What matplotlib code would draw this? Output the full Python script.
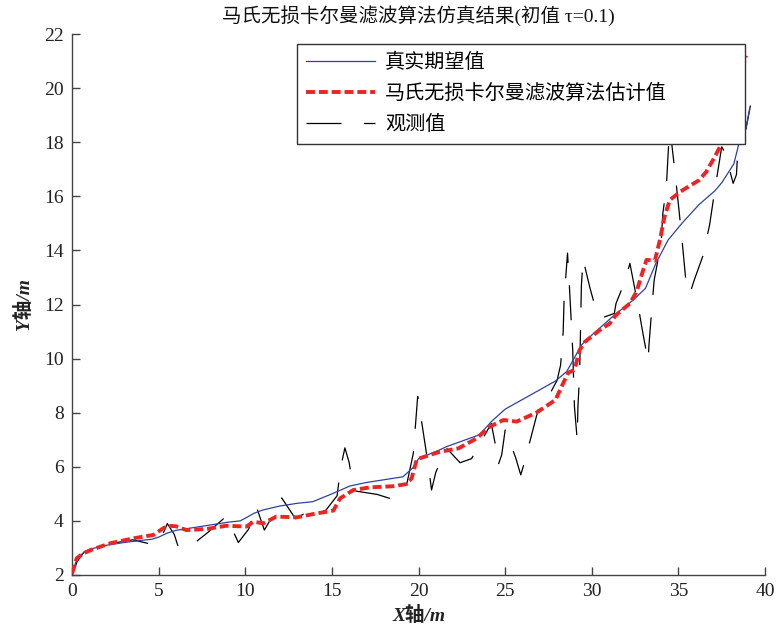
import numpy as np
import matplotlib
matplotlib.use("Agg")
import matplotlib.pyplot as plt

plt.rcParams['font.family'] = ['Liberation Serif', 'Noto Sans CJK SC']
plt.rcParams['axes.unicode_minus'] = False

# true expected trajectory
true_x = [0, 0.3, 0.7, 1, 2, 3, 4, 4.6, 5.0, 5.5, 6, 7, 8, 9, 9.7, 10, 10.5, 11, 12, 13,
          13.9, 15.08, 16.04, 17, 18, 19.1, 19.7, 20, 21.2, 21.6, 23.5, 24.3, 25.0, 27.9,
          28.55, 28.93, 29.4, 30.0, 31.2, 32.4, 33.1, 33.7, 34.4, 35.2, 36.2, 37.1, 37.5,
          38.2, 38.55, 38.9, 39.1]
true_y = [2.1, 2.6, 2.85, 2.95, 3.1, 3.2, 3.28, 3.32, 3.4, 3.55, 3.65, 3.75, 3.85, 3.95,
          4.0, 4.1, 4.28, 4.4, 4.55, 4.65, 4.71, 5.02, 5.29, 5.42, 5.52, 5.63, 5.98, 6.3,
          6.62, 6.74, 7.18, 7.73, 8.13, 9.17, 9.52, 9.95, 10.5, 10.87, 11.55, 12.17, 12.6,
          13.52, 14.38, 15.0, 15.7, 16.2, 16.5, 17.2, 18.1, 18.5, 19.2]

# UKF estimate
est_x = [0, 0.27, 0.65, 1.2, 2.2, 3.5, 4.7, 5.27, 5.6, 6.0, 6.6, 7.77, 8.9, 10.08, 10.46,
         11.04, 11.8, 12.97, 13.9, 15.08, 15.47, 16.23, 17.2, 18.5, 19.3, 19.6, 19.9, 21.2,
         22.3, 23.35, 24.1, 24.9, 25.66, 26.8, 27.9, 28.35, 28.64, 29.0, 29.3, 29.6, 30.47,
         31.04, 31.4, 32.2, 32.58, 32.97, 33.16, 33.64, 33.93, 34.2, 34.5, 35.1, 36.2, 36.6,
         37.1, 37.5, 38.2, 38.9]
est_y = [2.05, 2.62, 2.8, 2.95, 3.17, 3.35, 3.48, 3.73, 3.82, 3.8, 3.66, 3.7, 3.82, 3.79,
         3.97, 3.91, 4.16, 4.13, 4.25, 4.38, 4.83, 5.14, 5.24, 5.28, 5.36, 5.57, 6.28, 6.55,
         6.68, 7.05, 7.48, 7.73, 7.67, 8.0, 8.47, 9.09, 9.48, 9.58, 10.32, 10.62, 11.06,
         11.3, 11.61, 12.04, 12.47, 13.28, 13.65, 13.62, 14.38, 15.25, 15.86, 16.17, 16.6,
         16.9, 17.46, 17.96, 19.5, 21.2]

# observations
obs_x = [0.0, 0.3, 0.7, 1.5, 2.2, 2.6, 3.5, 4.5, 5.0, 5.5, 5.9, 6.1, 6.7, 7.3, 7.8, 8.9,
         9.1, 9.6, 10.2, 10.6, 11.1, 11.5, 12.1, 12.9, 14.1, 14.6, 15.3, 15.5, 15.75, 16.0,
         16.2, 16.4, 17.6, 18.5, 19.3, 19.7, 19.95, 20.1, 20.6, 20.75, 21.0, 21.6, 22.4,
         23.06, 23.4, 24.2, 24.5, 24.6, 24.8, 25.0, 25.6, 25.9, 26.1, 26.9, 27.5, 28.0,
         28.2, 28.35, 28.4, 28.5, 28.6, 28.7, 28.8, 28.9, 29.0, 29.16, 29.2, 29.3, 29.4,
         29.5, 29.6, 29.9, 30.3, 30.56, 31.3, 31.4, 31.9, 32.2, 32.7, 32.9, 33.25, 33.3,
         33.45, 33.6, 34.0, 34.1, 34.3, 34.4, 34.5, 34.8, 35.0, 35.2, 35.5, 35.76, 35.95,
         36.4, 36.8, 37.1, 37.5, 37.7, 38.16, 38.35, 38.45, 38.9, 39.2]
obs_y = [2.0, 2.5, 2.85, 3.05, 3.2, 3.2, 3.3, 3.15, 3.15, 3.9, 3.5, 3.1, 2.95, 3.3, 3.55,
         4.17, 3.9, 3.2, 3.7, 4.6, 3.66, 4.1, 4.85, 4.08, 4.52, 4.35, 4.93, 5.96, 6.7, 6.15,
         5.3, 5.1, 4.98, 4.8, 5.3, 6.5, 8.6, 8.0, 5.9, 5.14, 5.8, 6.7, 6.15,
         6.3, 6.7, 7.6, 6.6, 6.07, 6.44, 7.36, 6.35, 5.7, 6.13, 8.1, 8.6, 9.2,
         9.76, 11.0, 12.17, 13.03, 13.9, 12.78, 11.55, 10.3, 8.22, 6.99, 8.22, 9.46, 12.7,
         13.7, 13.4, 12.6, 11.67, 11.5, 11.67, 12.04, 12.84, 13.52, 11.86, 11.12, 9.89, 10.5,
         11.73, 12.9, 14.26, 15.37, 16.3, 17.5, 18.6, 16.9, 15.7, 14.45, 12.4, 12.6, 12.97,
         13.77, 14.94, 16.23, 17.83, 17.6, 16.48, 16.8, 17.96, 18.5, 19.5]

labels = ['真实期望值', '马氏无损卡尔曼滤波算法估计值', '观测值']

fig = plt.figure(figsize=(7.77, 6.42), dpi=100)
ax = fig.add_axes([0.0927, 0.1044, 0.8919, 0.8426])

ax.plot(true_x, true_y, color='#2e41a3', lw=0.9, label=labels[0], zorder=3)
ax.plot(est_x, est_y, color='#ee2424', lw=2.8, dashes=(2.3, 1.0), label=labels[1], zorder=4)
ax.plot(obs_x, obs_y, color='black', lw=0.9, dashes=(28, 18), label=labels[2], zorder=2)

ax.set_xlim(0, 40)
ax.set_ylim(2, 22)
ax.set_xticks(np.arange(0, 41, 5))
ax.set_yticks(np.arange(2, 23, 2))
for s in ['top', 'right']:
    ax.spines[s].set_visible(False)
for s in ['left', 'bottom']:
    ax.spines[s].set_color('#444444')
    ax.spines[s].set_linewidth(1.0)
ax.tick_params(direction='in', length=6, width=1.0, color='#444444', labelsize=14,
               labelcolor='#222222', pad=6)

ax.set_title('马氏无损卡尔曼滤波算法仿真结果(初值 τ=0.1)', fontsize=14, color='#111111', pad=9)
ax.set_xlabel('X轴/m', fontsize=14, fontweight='bold', fontstyle='italic', color='#222222', labelpad=4)
ax.set_ylabel('Y轴/m', fontsize=14, fontweight='bold', fontstyle='italic', color='#222222', labelpad=8)

# legend box stretched to the reference frame, text left aligned
leg = ax.legend(loc='upper left', bbox_to_anchor=(0.325, 0.802, 0.646, 0.179), mode='expand',
                fontsize=14.5, frameon=True, fancybox=False, edgecolor='#333333', framealpha=1,
                handlelength=3.4, handletextpad=0.5, borderpad=0.45, labelspacing=0.6,
                borderaxespad=0)
leg.get_frame().set_linewidth(1.0)

fig.savefig('out.png', dpi=100)
